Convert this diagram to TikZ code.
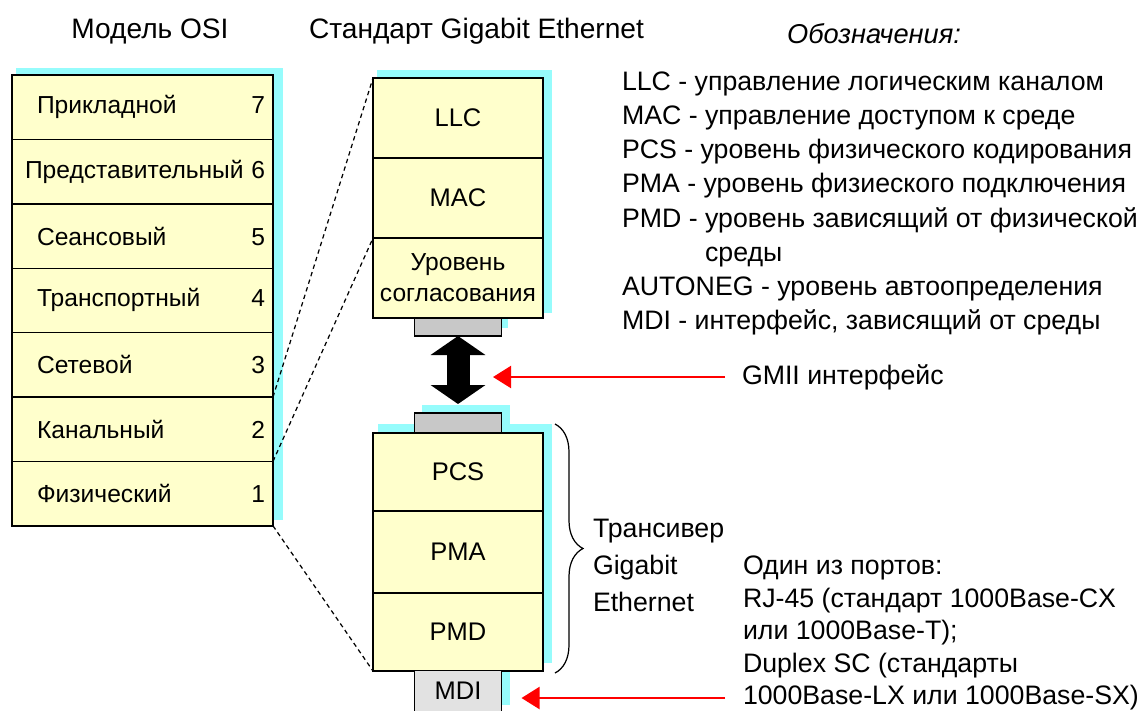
\documentclass[tikz,border=0pt]{standalone}
\usepackage{fontspec}
\setmainfont{Liberation Sans}
\usetikzlibrary{positioning,calc,arrows.meta,decorations.pathreplacing,backgrounds}

\definecolor{layerfill}{RGB}{255,255,204}
\definecolor{shadowcyan}{RGB}{150,252,252}
\definecolor{portgray}{RGB}{200,200,200}
\definecolor{mdigray}{RGB}{226,226,226}

\begin{document}
\begin{tikzpicture}[node distance=0pt, line width=0.8pt,
  every node/.style={font=\fontsize{14.5}{18}\selectfont, outer sep=0pt},
  osirow/.style={draw, rectangle, fill=layerfill, text width=4.9cm, inner xsep=0.16cm, inner ysep=0pt, minimum height=1.288cm, align=left, font=\fontsize{14}{17}\selectfont},
  gbrow/.style={draw, rectangle, fill=layerfill, minimum width=3.4cm, minimum height=1.6cm, inner sep=0pt, align=center},
  port/.style={draw, rectangle, fill=portgray, minimum width=1.74cm, inner sep=0pt},
  cyanshadow/.style={fill=shadowcyan, draw=none},
  txt/.style={anchor=west, align=left, inner sep=0pt, font=\fontsize{15.2}{18}\selectfont},
  titletxt/.style={font=\fontsize{16}{18}\selectfont},
  redarrow/.style={draw=red, line width=1.2pt, -{Triangle[length=0.36cm,width=0.44cm]}},
  zoomline/.style={dash pattern=on 2.5pt off 2pt, line width=0.7pt}]
\useasboundingbox (0,0) rectangle (22.86,-14.22);

% titles
\node (osititle) [titletxt] at (3.0,-0.62) {Модель OSI};
\node (gbtitle) [titletxt] at (9.53,-0.62) {Стандарт Gigabit Ethernet};
\node (legtitle) [titletxt, font=\fontsize{15.5}{18}\itshape] at (17.48,-0.68) {Обозначения:};

% OSI model
\node (l7) [osirow, anchor=north west] at (0.24,-1.50) {\hspace*{0.34cm}Прикладной\hfill\llap{7}};
\node (l6) [osirow, below=of l7] {\hspace*{0.1cm}Представительный\hfill\llap{6}};
\node (l5) [osirow, below=of l6] {\hspace*{0.34cm}Сеансовый\hfill\llap{5}};
\node (l4) [osirow, below=of l5] {\hspace*{0.34cm}Транспортный\hfill\llap{4}};
\node (l3) [osirow, below=of l4] {\hspace*{0.34cm}Сетевой\hfill\llap{3}};
\node (l2) [osirow, below=of l3] {\hspace*{0.34cm}Канальный\hfill\llap{2}};
\node (l1) [osirow, below=of l2] {\hspace*{0.34cm}Физический\hfill\llap{1}};

% Gigabit Ethernet, upper part
\node (llc) [gbrow, anchor=north west] at (7.46,-1.56) {\raisebox{-2pt}{LLC}};
\node (mac) [gbrow, below=of llc] {\raisebox{-3pt}{MAC}};
\node (rs) [gbrow, below=of mac] {\raisebox{-0.09cm}{\parbox{3.3cm}{\centering\fontsize{14}{17.6}\selectfont Уровень\\согласования}}};
\node (gtop) [port, below=of rs, minimum height=0.36cm] {};

% transceiver
\node (pcs) [gbrow, anchor=north west, minimum height=1.56cm] at (7.46,-8.66) {\raisebox{-3pt}{PCS}};
\node (gbot) [port, above=of pcs, minimum height=0.4cm] {};
\node (pma) [gbrow, below=of pcs, minimum height=1.64cm] {PMA};
\node (pmd) [gbrow, below=of pma, minimum height=1.56cm] {PMD};
\node (mdi) [port, below=of pmd, fill=mdigray, draw=none, minimum height=0.8cm] {\raisebox{-6pt}{MDI}};
\draw (mdi.north west) -- (mdi.south west);
\draw (mdi.north east) -- (mdi.south east);

\begin{scope}[on background layer]
\fill[cyanshadow] ([shift={(0.08,0.14)}]l7.north west) rectangle ([shift={(0.2,0.12)}]l1.south east);
\fill[cyanshadow] ([shift={(0.08,0.16)}]llc.north west) rectangle ([shift={(0.18,0.1)}]rs.south east);
\fill[cyanshadow] ([shift={(0.1,0.18)}]pcs.north west) rectangle ([shift={(0.18,0.16)}]pmd.south east);
\fill[cyanshadow] ([shift={(0.14,0.16)}]gbot.north west) rectangle ([shift={(0.16,0)}]gbot.south east);
\fill[cyanshadow] ([shift={(0.1,0.16)}]gtop.north west) rectangle ([shift={(0.12,0.16)}]gtop.south east);
\fill[cyanshadow] ([shift={(0.1,0.16)}]mdi.north west) rectangle ([shift={(0.16,0.12)}]mdi.south east);
\end{scope}

% which OSI layers
\draw[zoomline] (l2.north east) -- (llc.north west);
\draw[zoomline] (l2.south east) -- (mac.south west);
\draw[zoomline] (l1.south east) -- (pmd.south west);

% GMII
\draw[line width=0.46cm, {Triangle[length=0.38cm,width=1.08cm]}-{Triangle[length=0.38cm,width=1.08cm]}, shorten >=0.18cm] (gtop.south) -- (gbot.north);
\node (gmii) [txt] at (14.84,-7.54) {GMII интерфейс};
\coordinate (gmiitip) at (9.86,-7.54);
\draw[redarrow] ([xshift=-0.34cm]gmii.west) -- (gmiitip);

% transceiver brace
\draw[decorate, decoration={brace, amplitude=0.56cm}, line width=0.7pt] ([shift={(0.24,0.18)}]pcs.north east) -- ([shift={(0.24,-0.04)}]pmd.south east);
\node (trx) [txt, anchor=north west, font=\fontsize{15.2}{21}\selectfont] at (11.86,-10.38) {Трансивер\\Gigabit\\Ethernet};

% ports
\node (ports) [txt, anchor=north west, font=\fontsize{15.2}{18.5}\selectfont] at (14.86,-11.12) {Один из портов:\\RJ-45 (стандарт 1000Base-CX\\или 1000Base-T);\\Duplex SC (стандарты\\1000Base-LX или 1000Base-SX)};
\coordinate (mditail) at (14.5,-13.96);
\draw[redarrow, shorten >=0.4cm] (mditail) -- (mditail -| mdi.east);

% legend
\node (legend) [txt, anchor=north west, font=\fontsize{15.2}{19.4}\selectfont] at (12.44,-1.44) {LLC - управление логическим каналом\\MAC - управление доступом к среде\\PCS - уровень физического кодирования\\PMA - уровень физиеского подключения\\PMD - уровень зависящий от физической\\\phantom{PMD - }среды\\AUTONEG - уровень автоопределения\\MDI - интерфейс, зависящий от среды};
\end{tikzpicture}
\end{document}
